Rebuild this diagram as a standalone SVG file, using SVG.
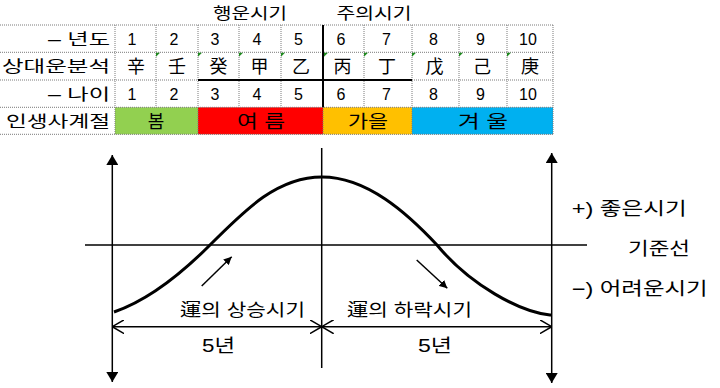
<svg xmlns="http://www.w3.org/2000/svg" width="720" height="388" viewBox="0 0 720 388">
<defs>
<style>
text{font-family:"Liberation Sans","Noto Sans CJK KR",sans-serif;fill:#000}
.num{font-size:16px;text-anchor:middle}
.han{font-size:18px;text-anchor:middle;font-family:"Noto Sans CJK KR","Noto Sans CJK SC",sans-serif}
.lbl{font-size:16px;text-anchor:end}
.sea{font-size:18px;text-anchor:middle}
.ch{font-size:17px;text-anchor:middle}
.rt{font-size:18px}
.grid line{stroke:#7a7a7a;stroke-width:1;stroke-dasharray:1 1}
.thick{stroke:#000;stroke-width:2}
.tri{fill:#1f8a1f}
.ax{stroke:#000;stroke-width:1.5;fill:none}
</style>
<marker id="fa" viewBox="0 0 10 10" refX="10" refY="5" markerWidth="8" markerHeight="8" markerUnits="userSpaceOnUse" orient="auto">
<path d="M0,0 L10,5 L0,10 Z" fill="#000"/>
</marker>
<marker id="big" viewBox="0 0 10 12" refX="10" refY="6" markerWidth="10" markerHeight="12" markerUnits="userSpaceOnUse" orient="auto">
<path d="M0,0 L10,6 L0,12 Z" fill="#000"/>
</marker>
<marker id="open" viewBox="0 0 12 14" refX="12" refY="7" markerWidth="12" markerHeight="14" markerUnits="userSpaceOnUse" orient="auto">
<path d="M0,0 L12,7 L0,14" fill="none" stroke="#000" stroke-width="1.5"/>
</marker>
</defs>
<rect width="720" height="388" fill="#fff"/>

<!-- season fills -->
<g id="seasons">
<rect x="115" y="107.3" width="83" height="27" fill="#92d050"/>
<rect x="198" y="107.3" width="125" height="27" fill="#ff0000"/>
<rect x="323" y="107.3" width="89" height="27" fill="#ffc000"/>
<rect x="412" y="107.3" width="141" height="27" fill="#00b0f0"/>
</g>

<!-- table grid -->
<g class="grid">
<line x1="0" y1="25" x2="553" y2="25"/>
<line x1="0" y1="52.3" x2="553" y2="52.3"/>
<line x1="0" y1="80" x2="553" y2="80"/>
<line x1="0" y1="107.3" x2="553" y2="107.3"/>
<line x1="0" y1="134.3" x2="553" y2="134.3"/>
<line x1="115" y1="25" x2="115" y2="134.3"/>
<line x1="156" y1="25" x2="156" y2="107.3"/>
<line x1="198" y1="25" x2="198" y2="134.3"/>
<line x1="239" y1="25" x2="239" y2="107.3"/>
<line x1="281" y1="25" x2="281" y2="107.3"/>
<line x1="323" y1="25" x2="323" y2="134.3"/>
<line x1="364" y1="25" x2="364" y2="107.3"/>
<line x1="412" y1="25" x2="412" y2="134.3"/>
<line x1="459" y1="25" x2="459" y2="107.3"/>
<line x1="507" y1="25" x2="507" y2="107.3"/>
<line x1="553" y1="25" x2="553" y2="134.3"/>
</g>
<g id="thick-borders">
<line class="thick" x1="323" y1="25" x2="323" y2="107.3"/>
<line class="thick" x1="198" y1="80" x2="412" y2="80"/>
</g>
<g id="comment-marks">
<path class="tri" d="M156,52.8 h4 l-4,4 Z"/>
<path class="tri" d="M198,52.8 h4 l-4,4 Z"/>
<path class="tri" d="M239,52.8 h4 l-4,4 Z"/>
<path class="tri" d="M281,52.8 h4 l-4,4 Z"/>
<path class="tri" d="M324,52.8 h4 l-4,4 Z"/>
<path class="tri" d="M364,52.8 h4 l-4,4 Z"/>
<path class="tri" d="M412,52.8 h4 l-4,4 Z"/>
<path class="tri" d="M459,52.8 h4 l-4,4 Z"/>
<path class="tri" d="M507,52.8 h4 l-4,4 Z"/>
</g>

<!-- headers -->
<g id="headers">
<text x="250" y="19" font-size="16" text-anchor="middle" textLength="74" lengthAdjust="spacingAndGlyphs">행운시기</text>
<text x="374" y="19" font-size="16" text-anchor="middle" textLength="75" lengthAdjust="spacingAndGlyphs">주의시기</text>
</g>

<!-- row labels -->
<g id="row-labels">
<text class="lbl" x="110" y="44.5" textLength="62" lengthAdjust="spacingAndGlyphs">– 년도</text>
<text class="lbl" x="110" y="72" textLength="108" lengthAdjust="spacingAndGlyphs">상대운분석</text>
<text class="lbl" x="110" y="99.5" textLength="62" lengthAdjust="spacingAndGlyphs">– 나이</text>
<text class="lbl" x="110" y="127" textLength="104" lengthAdjust="spacingAndGlyphs">인생사계절</text>
</g>

<!-- row 1: years -->
<g id="row-years">
<text class="num" x="132" y="44.5">1</text>
<text class="num" x="174" y="44.5">2</text>
<text class="num" x="215" y="44.5">3</text>
<text class="num" x="257" y="44.5">4</text>
<text class="num" x="298.5" y="44.5">5</text>
<text class="num" x="341" y="44.5">6</text>
<text class="num" x="386.5" y="44.5">7</text>
<text class="num" x="433.5" y="44.5">8</text>
<text class="num" x="480.5" y="44.5">9</text>
<text class="num" x="528" y="44.5">10</text>
</g>

<!-- row 2: stems -->
<g id="row-stems">
<text class="han" x="136" y="72.5">辛</text>
<text class="han" x="177" y="72.5">壬</text>
<text class="han" x="218.5" y="72.5">癸</text>
<text class="han" x="259.5" y="72.5">甲</text>
<text class="han" x="301" y="72.5">乙</text>
<text class="han" x="342.5" y="72.5">丙</text>
<text class="han" x="387" y="72.5">丁</text>
<text class="han" x="434.5" y="72.5">戊</text>
<text class="han" x="482" y="72.5">己</text>
<text class="han" x="530" y="72.5">庚</text>
</g>

<!-- row 3: ages -->
<g id="row-ages">
<text class="num" x="132" y="99.5">1</text>
<text class="num" x="174" y="99.5">2</text>
<text class="num" x="215" y="99.5">3</text>
<text class="num" x="257" y="99.5">4</text>
<text class="num" x="298.5" y="99.5">5</text>
<text class="num" x="341" y="99.5">6</text>
<text class="num" x="386.5" y="99.5">7</text>
<text class="num" x="433.5" y="99.5">8</text>
<text class="num" x="480.5" y="99.5">9</text>
<text class="num" x="528" y="99.5">10</text>
</g>

<!-- row 4: seasons -->
<g id="season-labels">
<text class="sea" x="156" y="127.5">봄</text>
<text class="sea" x="261" y="127.5" textLength="48" lengthAdjust="spacingAndGlyphs">여 름</text>
<text class="sea" x="368" y="127.5" textLength="40" lengthAdjust="spacingAndGlyphs">가을</text>
<text class="sea" x="483" y="127.5" textLength="50" lengthAdjust="spacingAndGlyphs">겨 울</text>
</g>

<!-- chart connectors / axes -->
<g id="connectors">
<line class="ax" x1="112.3" y1="246" x2="112.3" y2="155" marker-end="url(#big)"/>
<line class="ax" x1="112.3" y1="246" x2="112.3" y2="382" marker-end="url(#big)"/>
<line class="ax" x1="551.7" y1="246" x2="551.7" y2="153" marker-end="url(#big)"/>
<line class="ax" x1="551.7" y1="246" x2="551.7" y2="383" marker-end="url(#big)"/>
<line class="ax" x1="85" y1="245" x2="587" y2="245"/>
<line class="ax" x1="321.7" y1="148" x2="321.7" y2="368"/>
<line class="ax" x1="217" y1="326.7" x2="112.3" y2="326.7" marker-end="url(#open)"/>
<line class="ax" x1="217" y1="326.7" x2="321.7" y2="326.7" marker-end="url(#open)"/>
<line class="ax" x1="437" y1="326.7" x2="321.7" y2="326.7" marker-end="url(#open)"/>
<line class="ax" x1="437" y1="326.7" x2="551.7" y2="326.7" marker-end="url(#open)"/>
<line class="ax" x1="201.7" y1="286" x2="231.7" y2="256.7" marker-end="url(#fa)"/>
<line class="ax" x1="416.7" y1="260" x2="447.3" y2="288.3" marker-end="url(#fa)"/>
<path d="M114,312 C146,301 180,275 210,245 C245,210 277,177 322,177 C367,177 407,213 437,245 C470,285 520,312 550,315 L552,315" fill="none" stroke="#000" stroke-width="3"/>
</g>

<!-- chart labels -->
<g id="chart-labels">
<text class="ch" x="242.5" y="316" textLength="125" lengthAdjust="spacingAndGlyphs">運의 상승시기</text>
<text class="ch" x="409.5" y="316" textLength="125" lengthAdjust="spacingAndGlyphs">運의 하락시기</text>
<text x="218.5" y="352" font-size="18" text-anchor="middle" textLength="33" lengthAdjust="spacingAndGlyphs">5년</text>
<text x="435" y="352" font-size="18" text-anchor="middle" textLength="34" lengthAdjust="spacingAndGlyphs">5년</text>
</g>
<g id="legend">
<text class="rt" x="571.7" y="214.5" textLength="115" lengthAdjust="spacingAndGlyphs">+) 좋은시기</text>
<text class="rt" x="628" y="254.5" textLength="62" lengthAdjust="spacingAndGlyphs">기준선</text>
<text class="rt" x="571.7" y="294.5" textLength="136" lengthAdjust="spacingAndGlyphs">−) 어려운시기</text>
</g>
</svg>
